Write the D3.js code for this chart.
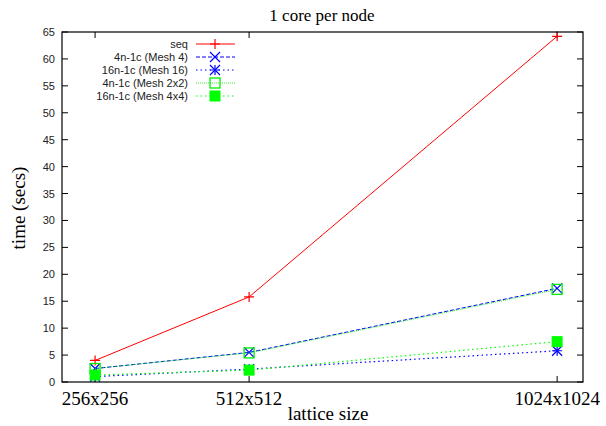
<!DOCTYPE html>
<html><head><meta charset="utf-8">
<script src="https://cdn.jsdelivr.net/npm/d3@7"></script>
<style>body{margin:0;background:#fff}</style>
</head><body>
<svg id="c" width="606" height="426"></svg>
<script>
const sizes = [256, 512, 1024];
const xTickLabels = ["256x256", "512x512", "1024x1024"];
const yTicks = [0,5,10,15,20,25,30,35,40,45,50,55,60,65];
const seriesNames = ["seq", "4n-1c (Mesh 4)", "16n-1c (Mesh 16)", "4n-1c (Mesh 2x2)", "16n-1c (Mesh 4x4)"];
const seq = [4.0, 15.8, 64.2];
const mesh4 = [2.5, 5.5, 17.4];
const mesh16 = [1.0, 2.4, 5.8];
const mesh2x2 = [2.5, 5.4, 17.2];
const mesh4x4 = [1.3, 2.2, 7.5];

const series = [
  {name: seriesNames[0], values: seq, color: "#ff0000", dash: null, width: 1, marker: "plus"},
  {name: seriesNames[1], values: mesh4, color: "#0000ff", dash: "4,2", width: 1, marker: "cross"},
  {name: seriesNames[2], values: mesh16, color: "#0000ff", dash: "1.5,3", width: 1.2, marker: "star"},
  {name: seriesNames[3], values: mesh2x2, color: "#00ee00", dash: "1,1", width: 0.8, marker: "square"},
  {name: seriesNames[4], values: mesh4x4, color: "#00ff00", dash: "1.5,3", width: 1.2, marker: "fsquare"}
];

const L = 62, R = 583, T = 32, B = 382;
const svg = d3.select("#c");
const x = d3.scaleLinear().domain([201, 1067]).range([L, R]);
const y = d3.scaleLinear().domain([0, 65]).range([B, T]);

const g = svg.append("g");
yTicks.forEach(v => {
  g.append("line").attr("x1", L).attr("x2", L + 6).attr("y1", y(v)).attr("y2", y(v)).attr("stroke", "#000");
  g.append("line").attr("x1", R).attr("x2", R - 6).attr("y1", y(v)).attr("y2", y(v)).attr("stroke", "#000");
  g.append("text").attr("x", 55).attr("y", y(v) + 4).attr("text-anchor", "end")
    .attr("font-family", "Liberation Sans, Arial, sans-serif").attr("font-size", 11).attr("fill", "#222").text(v);
});
sizes.forEach((s, i) => {
  g.append("line").attr("x1", x(s)).attr("x2", x(s)).attr("y1", B).attr("y2", B - 6).attr("stroke", "#000");
  g.append("line").attr("x1", x(s)).attr("x2", x(s)).attr("y1", T).attr("y2", T + 6).attr("stroke", "#000");
  g.append("text").attr("x", x(s)).attr("y", 405).attr("text-anchor", "middle")
    .attr("font-family", "Liberation Serif, Times New Roman, serif").attr("font-size", 19).attr("fill", "#000").text(xTickLabels[i]);
});

function marker(sel, type, cx, cy, color) {
  const s = 5;
  if (type === "plus" || type === "star") {
    sel.append("path").attr("d", `M${cx-s},${cy}H${cx+s}M${cx},${cy-s}V${cy+s}`).attr("stroke", color).attr("stroke-width", 1.2).attr("fill", "none");
  }
  if (type === "cross" || type === "star") {
    sel.append("path").attr("d", `M${cx-s},${cy-s}L${cx+s},${cy+s}M${cx-s},${cy+s}L${cx+s},${cy-s}`).attr("stroke", color).attr("stroke-width", 1.2).attr("fill", "none");
  }
  if (type === "square") {
    sel.append("rect").attr("x", cx - 5).attr("y", cy - 5).attr("width", 10).attr("height", 10).attr("stroke", color).attr("stroke-width", 1.3).attr("fill", "none");
  }
  if (type === "fsquare") {
    sel.append("rect").attr("x", cx - 5.5).attr("y", cy - 5.5).attr("width", 11).attr("height", 11).attr("fill", color);
  }
}

const line = d3.line().x((d, i) => x(sizes[i])).y(d => y(d));
const pg = svg.append("g");
series.forEach(s => {
  pg.append("path").datum(s.values).attr("d", line).attr("fill", "none").attr("stroke", s.color)
    .attr("stroke-width", s.width).attr("stroke-dasharray", s.dash);
  s.values.forEach((v, i) => marker(pg, s.marker, x(sizes[i]), y(v), s.color));
});

const lg = svg.append("g");
series.forEach((s, i) => {
  const ly = 44 + i * 13;
  lg.append("text").attr("x", 188).attr("y", ly + 4).attr("text-anchor", "end")
    .attr("font-family", "Liberation Sans, Arial, sans-serif").attr("font-size", 11).attr("fill", "#222").text(s.name);
  lg.append("line").attr("x1", 196).attr("x2", 235).attr("y1", ly).attr("y2", ly).attr("stroke", s.color)
    .attr("stroke-width", s.width).attr("stroke-dasharray", s.dash);
  marker(lg, s.marker, 215, ly, s.color);
});

svg.append("rect").attr("x", L).attr("y", T).attr("width", R - L).attr("height", B - T)
  .attr("fill", "none").attr("stroke", "#000").attr("stroke-width", 1.2);

svg.append("text").attr("x", 322).attr("y", 21).attr("text-anchor", "middle")
  .attr("font-family", "Liberation Serif, Times New Roman, serif").attr("font-size", 17).text("1 core per node");
svg.append("text").attr("x", 328).attr("y", 420).attr("text-anchor", "middle")
  .attr("font-family", "Liberation Serif, Times New Roman, serif").attr("font-size", 19).text("lattice size");
svg.append("text").attr("transform", "translate(25,208) rotate(-90)").attr("text-anchor", "middle")
  .attr("font-family", "Liberation Serif, Times New Roman, serif").attr("font-size", 19).text("time (secs)");
</script>
</body></html>
